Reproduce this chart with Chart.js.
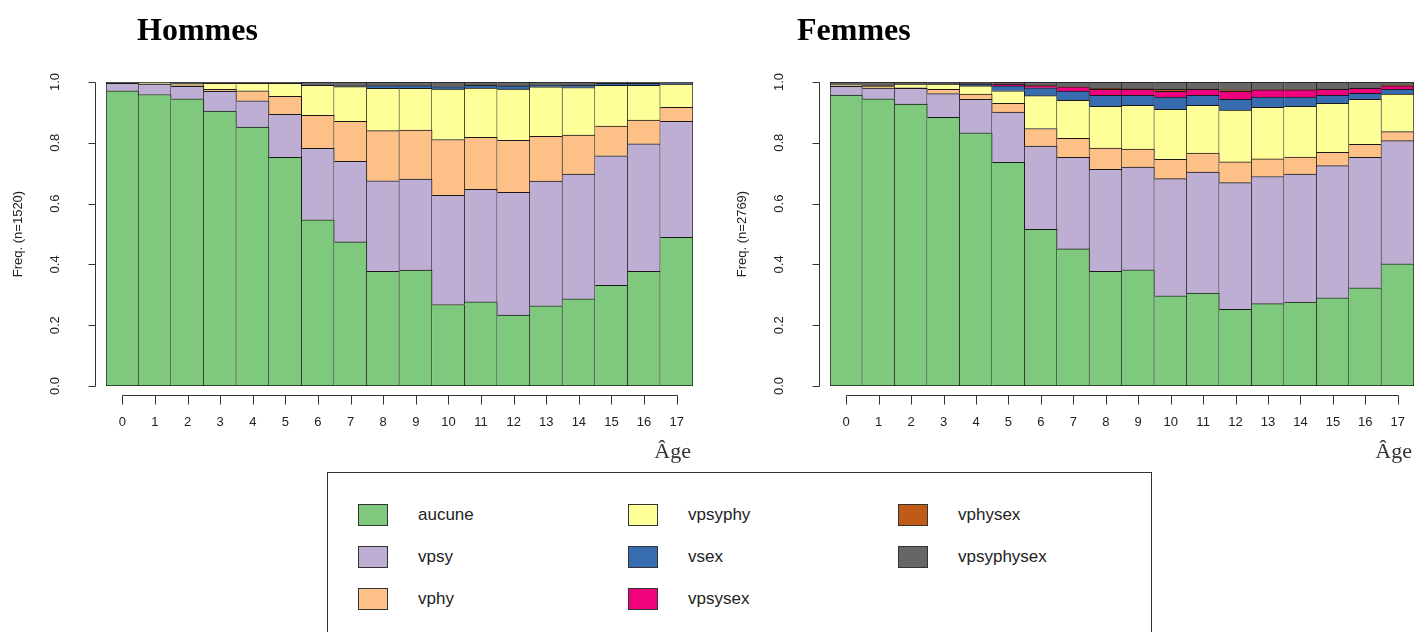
<!DOCTYPE html>
<html>
<head>
<meta charset="utf-8">
<script src="https://cdn.jsdelivr.net/npm/chart.js@4.4.1/dist/chart.umd.min.js"></script>
<style>
  body { margin: 0; background: #fff; width: 1414px; height: 632px; overflow: hidden; position: relative; }
  canvas { position: absolute; top: 0; }
  #legend { position: absolute; left: 327px; top: 472px; width: 825px; height: 200px; border: 1px solid #333; box-sizing: border-box; }
  .item { position: absolute; display: flex; align-items: center; font: 17px "Liberation Sans", Arial, sans-serif; color: #222; }
  .swatch { width: 30px; height: 22px; border: 1px solid #333; box-sizing: border-box; margin-right: 30px; }
</style>
</head>
<body>
<canvas id="hommes" width="707" height="470" style="left:0"></canvas>
<canvas id="femmes" width="707" height="470" style="left:707px"></canvas>
<div id="legend"></div>
<script>
const ages = ['0','1','2','3','4','5','6','7','8','9','10','11','12','13','14','15','16','17'];
const categories = ['aucune','vpsy','vphy','vpsyphy','vsex','vpsysex','vphysex','vpsyphysex'];
const colors = ['#7FC97F','#BEAED4','#FDC086','#FFFF99','#386CB0','#F0027F','#BF5B17','#666666'];
const yTicks = [0, 0.2, 0.4, 0.6, 0.8, 1.0];

// Hommes (n=1520)
const hAucune     = [.971,.959,.945,.904,.852,.752,.547,.474,.377,.381,.268,.277,.233,.264,.287,.331,.377,.489];
const hVpsy       = [.025,.034,.041,.065,.086,.142,.235,.265,.298,.300,.359,.370,.404,.410,.410,.426,.420,.382];
const hVphy       = [0,0,.005,.007,.033,.059,.108,.132,.165,.161,.184,.171,.171,.147,.128,.098,.078,.046];
const hVpsyphy    = [0,.003,.003,.020,.025,.043,.099,.114,.139,.137,.166,.162,.169,.163,.157,.134,.114,.076];
const hVsex       = [0,0,0,0,0,0,.002,.002,.009,.009,.008,.009,.010,.006,.008,.007,.007,.003];
const hVpsysex    = [0,0,0,0,0,0,0,0,0,0,0,0,0,0,0,0,0,0];
const hVphysex    = [0,0,0,0,0,0,0,0,0,0,0,0,0,0,0,0,0,0];
const hVpsyphysex = [.004,.004,.006,.004,.004,.004,.009,.013,.012,.012,.015,.011,.013,.010,.010,.004,.004,.004];

// Femmes (n=2769)
const fAucune     = [.957,.945,.927,.884,.833,.736,.515,.451,.377,.382,.297,.306,.252,.271,.276,.290,.323,.402];
const fVpsy       = [.029,.035,.052,.078,.110,.165,.274,.301,.336,.338,.385,.398,.417,.418,.421,.435,.429,.405];
const fVphy       = [0,0,.002,.014,.017,.029,.058,.063,.070,.059,.064,.062,.068,.058,.056,.044,.043,.030];
const fVpsyphy    = [.004,.004,.012,.017,.027,.041,.108,.125,.137,.144,.164,.157,.171,.170,.167,.161,.148,.123];
const fVsex       = [0,0,0,.001,.006,.016,.026,.030,.036,.033,.040,.033,.035,.033,.030,.026,.020,.016];
const fVpsysex    = [0,0,0,0,.001,.006,.007,.014,.020,.020,.019,.020,.026,.024,.024,.020,.016,.011];
const fVphysex    = [0,.004,0,0,0,0,.001,.001,.003,.002,.007,.001,.006,.001,.001,.001,.001,.003];
const fVpsyphysex = [.010,.012,.007,.006,.006,.007,.011,.015,.021,.022,.024,.023,.025,.025,.025,.023,.020,.010];

const hommes = [hAucune, hVpsy, hVphy, hVpsyphy, hVsex, hVpsysex, hVphysex, hVpsyphysex];
const femmes = [fAucune, fVpsy, fVphy, fVpsyphy, fVsex, fVpsysex, fVphysex, fVpsyphysex];

// R-style axes, drawn from the chart's own scales
const rAxes = {
  id: 'rAxes',
  afterDraw(chart, args, o) {
    const ctx = chart.ctx, a = chart.chartArea, x = chart.scales.x, y = chart.scales.y;
    ctx.save();
    ctx.strokeStyle = '#333';
    ctx.fillStyle = '#222';
    ctx.lineWidth = 1;

    const ax = Math.round(a.left - 11) + 0.5;
    ctx.beginPath();
    ctx.moveTo(ax, Math.round(y.getPixelForValue(0)) + 0.5);
    ctx.lineTo(ax, Math.round(y.getPixelForValue(1)) + 0.5);
    yTicks.forEach(v => {
      const py = Math.round(y.getPixelForValue(v)) + 0.5;
      ctx.moveTo(ax, py);
      ctx.lineTo(ax - 7, py);
    });
    ctx.stroke();

    ctx.font = '13px "Liberation Sans", Arial, sans-serif';
    ctx.textAlign = 'center';
    ctx.textBaseline = 'middle';
    yTicks.forEach(v => {
      ctx.save();
      ctx.translate(ax - 40, y.getPixelForValue(v));
      ctx.rotate(-Math.PI / 2);
      ctx.fillText(v.toFixed(1), 0, 0);
      ctx.restore();
    });
    ctx.save();
    ctx.translate(ax - 77, (a.top + a.bottom) / 2);
    ctx.rotate(-Math.PI / 2);
    ctx.fillText(o.ylabel, 0, 0);
    ctx.restore();

    const by = Math.round(a.bottom + 9) + 0.5;
    ctx.beginPath();
    ctx.moveTo(Math.round(x.getPixelForValue(0)) + 0.5, by);
    ctx.lineTo(Math.round(x.getPixelForValue(ages.length - 1)) + 0.5, by);
    ages.forEach((lab, i) => {
      const px = Math.round(x.getPixelForValue(i)) + 0.5;
      ctx.moveTo(px, by);
      ctx.lineTo(px, by + 9);
    });
    ctx.stroke();
    ages.forEach((lab, i) => {
      ctx.fillText(lab, x.getPixelForValue(i), by + 27);
    });

    ctx.font = '22px "Liberation Serif", "Times New Roman", serif';
    ctx.textAlign = 'right';
    ctx.textBaseline = 'alphabetic';
    ctx.fillStyle = '#333';
    ctx.fillText('Âge', a.right - 2, 458);

    ctx.font = 'bold 32px "Liberation Serif", "Times New Roman", serif';
    ctx.textAlign = 'left';
    ctx.fillStyle = '#000';
    ctx.fillText(o.title, o.titleX, 40);
    ctx.restore();
  }
};

function makeChart(id, series, pad, title, titleX, ylabel) {
  const datasets = categories.map((name, k) => ({
    label: name,
    data: series[k],
    backgroundColor: colors[k],
    borderColor: '#1a1a1a',
    borderSkipped: false,
    borderWidth: c => ({ top: 1, right: 1, left: c.dataIndex === 0 ? 1 : 0, bottom: k === 0 ? 1 : 0 }),
    barPercentage: 1,
    categoryPercentage: 1
  }));
  return new Chart(document.getElementById(id), {
    type: 'bar',
    data: { labels: ages, datasets },
    options: {
      responsive: false,
      animation: false,
      devicePixelRatio: 1,
      layout: { padding: pad },
      scales: {
        x: { stacked: true, display: false },
        y: { stacked: true, display: false, min: 0, max: 1 }
      },
      plugins: {
        legend: { display: false },
        tooltip: { enabled: false },
        rAxes: { title, titleX, ylabel }
      }
    },
    plugins: [rAxes]
  });
}

makeChart('hommes', hommes, { left: 106, right: 14, top: 82, bottom: 84 }, 'Hommes', 137, 'Freq. (n=1520)');
makeChart('femmes', femmes, { left: 123, right: 0, top: 82, bottom: 84 }, 'Femmes', 90, 'Freq. (n=2769)');

// legend, filled column by column like R's legend(ncol = 3)
const legend = document.getElementById('legend');
const colX = [30, 300, 570];
const rowY = [31, 73, 115];
categories.forEach((name, k) => {
  const item = document.createElement('div');
  item.className = 'item';
  item.style.left = colX[Math.floor(k / 3)] + 'px';
  item.style.top = rowY[k % 3] + 'px';
  item.innerHTML = '<span class="swatch" style="background:' + colors[k] + '"></span>' + name;
  legend.appendChild(item);
});
</script>
</body>
</html>
